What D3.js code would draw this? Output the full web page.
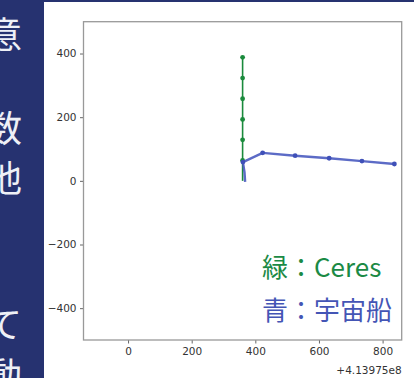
<!DOCTYPE html>
<html><head><meta charset="utf-8">
<script src="https://cdn.jsdelivr.net/npm/d3@7"></script>
<style>body{margin:0;background:#fff}svg{display:block}</style>
</head><body>
<svg id="c" width="414" height="378"></svg>
<script>
// Data (x values relative to offset +4.13975e8)
const xTicks = [0, 200, 400, 600, 800];
const yTicks = [-400, -200, 0, 200, 400];
const offsetLabel = "+4.13975e8";
const ceresLineX = [360, 360, 360, 360, 360, 360, 360];
const ceresLineY = [0, 64, 129, 193, 258, 323, 388];
const ceresMarkX = [360, 360, 360, 360, 360, 360];
const ceresMarkY = [64, 129, 193, 258, 323, 388];
const shipLineX = [368, 366, 361, 423, 525, 632, 735, 837];
const shipLineY = [-3, 27, 59, 88, 79, 71, 62, 53];
const shipMarkX = [361, 423, 525, 632, 735, 837];
const shipMarkY = [59, 88, 79, 71, 62, 53];
const slideChars = [["意", 48], ["数", 142], ["他", 192], ["て", 338], ["動", 389]];
const legendLines = [["緑：Ceres", "#1b8a45"], ["青：宇宙船", "#4455b5"]];

const svg = d3.select("#c");
const W = 414, H = 378;
const L = 83.5, R = 401.7, T = 21.7, B = 340;
const x = d3.scaleLinear().domain([-140, 860]).range([L, R]);
const y = d3.scaleLinear().domain([-500, 500]).range([B, T]);

svg.append("rect").attr("width", W).attr("height", H).attr("fill", "#fff");

// slide background band
svg.append("rect").attr("x", 0).attr("y", 0).attr("width", 44).attr("height", H).attr("fill", "#263270");
svg.append("rect").attr("x", 0).attr("y", 0).attr("width", W).attr("height", 2).attr("fill", "#263270");
svg.selectAll("text.sc").data(slideChars).join("text")
  .attr("class", "sc")
  .attr("x", 22).attr("y", d => d[1])
  .attr("text-anchor", "end")
  .attr("font-family", "'Noto Sans CJK JP'")
  .attr("font-size", 36)
  .attr("fill", "#eef0f6")
  .text(d => d[0]);

const fontTick = "'DejaVu Sans', sans-serif";
// axes
const gx = svg.append("g").attr("transform", `translate(0,${B})`)
  .call(d3.axisBottom(x).tickValues(xTicks).tickSize(3.5).tickPadding(4).tickFormat(d3.format("d")));
const gy = svg.append("g").attr("transform", `translate(${L},0)`)
  .call(d3.axisLeft(y).tickValues(yTicks).tickSize(3.5).tickPadding(3.5).tickFormat(d => d < 0 ? "\u2212" + Math.abs(d) : d));
[gx, gy].forEach(g => {
  g.select(".domain").remove();
  g.selectAll(".tick line").attr("stroke", "#555").attr("stroke-width", 0.9);
  g.selectAll(".tick text").attr("fill", "#333").attr("font-family", fontTick).attr("font-size", 10.5);
});

// spines
svg.append("rect").attr("x", L).attr("y", T).attr("width", R - L).attr("height", B - T)
  .attr("fill", "none").attr("stroke", "#999").attr("stroke-width", 1.3);

svg.append("text").attr("x", R).attr("y", 374).attr("text-anchor", "end")
  .attr("font-family", fontTick).attr("font-size", 10.5).attr("fill", "#333").text(offsetLabel);

const line = d3.line().x(d => x(d[0])).y(d => y(d[1]));
const ceresLine = ceresLineX.map((v, i) => [v, ceresLineY[i]]);
const shipLine = shipLineX.map((v, i) => [v, shipLineY[i]]);

svg.append("path").attr("d", line(ceresLine)).attr("fill", "none").attr("stroke", "#1a8a3c").attr("stroke-width", 1.6);
svg.selectAll("circle.ce").data(ceresMarkX.map((v, i) => [v, ceresMarkY[i]])).join("circle")
  .attr("class", "ce").attr("cx", d => x(d[0])).attr("cy", d => y(d[1])).attr("r", 2.4).attr("fill", "#1a8a3c");

svg.append("path").attr("d", line(shipLine)).attr("fill", "none").attr("stroke", "#4a5bc0").attr("stroke-width", 2.4).attr("stroke-opacity", 0.9).attr("stroke-linejoin", "round");
svg.selectAll("circle.sh").data(shipMarkX.map((v, i) => [v, shipMarkY[i]])).join("circle")
  .attr("class", "sh").attr("cx", d => x(d[0])).attr("cy", d => y(d[1])).attr("r", 2.4).attr("fill", "#3f50b8");

svg.selectAll("text.lg").data(legendLines).join("text")
  .attr("class", "lg").attr("x", 262).attr("y", (d, i) => 277 + i * 42.5)
  .attr("font-family", "'Noto Sans CJK JP'").attr("font-size", 26)
  .attr("fill", d => d[1]).text(d => d[0]);
</script>
</body></html>
